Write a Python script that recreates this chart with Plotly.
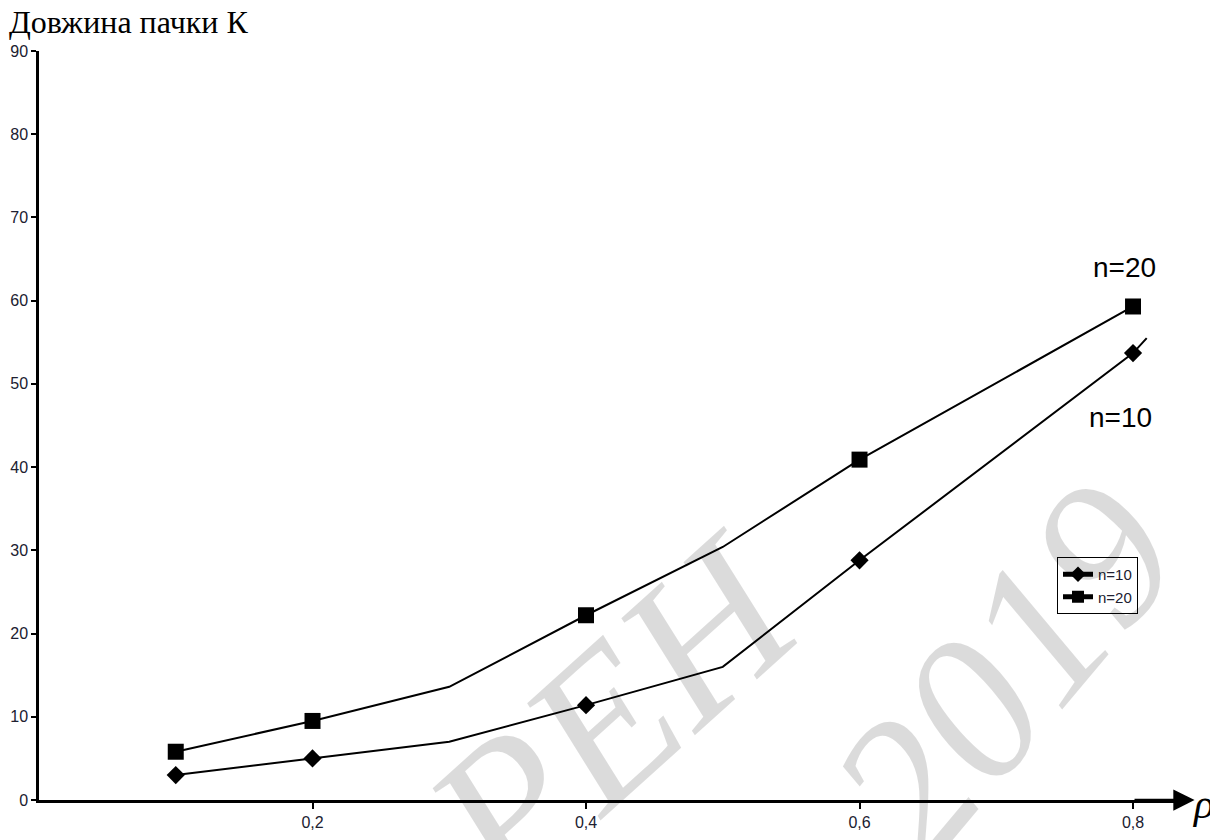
import plotly.graph_objects as go

# ---- data ----
rho = [0.1, 0.2, 0.3, 0.4, 0.5, 0.6, 0.8]
k_n10 = [3.0, 5.0, 7.0, 11.4, 16.0, 28.8, 53.7]
k_n20 = [5.8, 9.5, 13.6, 22.2, 30.4, 40.9, 59.3]
has_marker = [1, 1, 0, 1, 0, 1, 1]
# short continuation of the n=10 line past the last point
rho_tail_n10 = [0.81]
k_tail_n10 = [55.5]

series_names = ["n=10", "n=20"]
x_ticks = [0.2, 0.4, 0.6, 0.8]
x_tick_text = ["0,2", "0,4", "0,6", "0,8"]
y_ticks = [0, 10, 20, 30, 40, 50, 60, 70, 80, 90]

INK = "black"
TICK_COLOR = "#202030"
SANS = "Liberation Sans, Arial, sans-serif"
SERIF = "Liberation Serif, Times New Roman, serif"
WM = "rgba(0,0,0,0.14)"

size_diamond = [14 if m else 0 for m in has_marker] + [0]
size_square = [16 if m else 0 for m in has_marker]

fig = go.Figure()
fig.add_trace(go.Scatter(
    x=rho + rho_tail_n10, y=k_n10 + k_tail_n10, name=series_names[0],
    mode="lines+markers",
    line=dict(color=INK, width=2),
    marker=dict(symbol="diamond", size=size_diamond, color=INK, opacity=1, line=dict(width=0)),
))
fig.add_trace(go.Scatter(
    x=rho, y=k_n20, name=series_names[1],
    mode="lines+markers",
    line=dict(color=INK, width=2),
    marker=dict(symbol="square", size=size_square, color=INK, opacity=1, line=dict(width=0)),
))

# plot area: page pixels x 39..1185, y 51..800 (page body has an 8px margin)
PX0, PW, PY1, PH = 39, 1146, 800, 749

annotations = [
    # watermark
    dict(text="<i>РЕН</i>", xref="paper", yref="paper", x=(614 - PX0) / PW, y=(PY1 - 714) / PH,
         xanchor="center", yanchor="middle",
         showarrow=False, textangle=-42, font=dict(family=SERIF, size=208, color=WM)),
    dict(text="<i>2019</i>", xref="paper", yref="paper", x=(1004 - PX0) / PW, y=(PY1 - 670) / PH,
         xanchor="center", yanchor="middle",
         showarrow=False, textangle=-50, font=dict(family=SERIF, size=205, color=WM)),
    # title of the y axis
    dict(text="Довжина пачки К", xref="paper", yref="paper", x=-0.028, y=1.0385,
         xanchor="left", yanchor="middle", showarrow=False,
         font=dict(family=SERIF, size=32, color=INK)),
    # rho label
    dict(text="<i>ρ</i>", xref="paper", yref="paper", x=(1203 - PX0) / PW, y=-0.006,
         xanchor="center", yanchor="middle", showarrow=False,
         font=dict(family=SERIF, size=42, color=INK)),
    # series labels
    dict(text="n=20", xref="x", yref="y", x=0.794, y=64.0, showarrow=False,
         font=dict(family=SANS, size=28, color=INK)),
    dict(text="n=10", xref="x", yref="y", x=0.791, y=46.0, showarrow=False,
         font=dict(family=SANS, size=28, color=INK)),
    # arrow head of the x axis
    dict(text="", xref="x", yref="y", axref="x", ayref="y", x=0.845, y=0, ax=0.80, ay=0,
         showarrow=True, arrowhead=2, arrowsize=1.7, arrowwidth=2.5, arrowcolor=INK),
]

fig.update_layout(
    width=1218, height=840,
    # figure sits at (8, 8) on the page, so margins are shifted by 8px
    margin=dict(l=PX0 - 8, r=1218 - (PX0 - 8) - PW, t=(PY1 - PH) - 8, b=840 - ((PY1 - PH) - 8) - PH),
    paper_bgcolor="white", plot_bgcolor="rgba(0,0,0,0)",
    separators=", ",
    showlegend=True,
    legend=dict(x=(1057 - PX0) / PW, y=(PY1 - 557) / PH, xanchor="left", yanchor="top",
                bgcolor="white", bordercolor=INK, borderwidth=1,
                font=dict(family=SANS, size=15, color=TICK_COLOR),
                itemsizing="constant", tracegroupgap=0, itemwidth=30),
    annotations=annotations,
    xaxis=dict(range=[0, 0.838], showgrid=False, zeroline=False, automargin=False,
               showline=True, linecolor=INK, linewidth=2.5,
               tickmode="array", tickvals=x_ticks, ticktext=x_tick_text,
               ticks="outside", ticklen=6, tickwidth=2, tickcolor=INK,
               tickfont=dict(family=SANS, size=16, color=TICK_COLOR)),
    yaxis=dict(range=[0, 90], showgrid=False, zeroline=False, automargin=False,
               showline=True, linecolor=INK, linewidth=2.5,
               tickmode="array", tickvals=y_ticks,
               ticks="outside", ticklen=5, tickwidth=2, tickcolor=INK,
               tickfont=dict(family=SANS, size=16, color=TICK_COLOR)),
)

fig.write_html("out.html")
